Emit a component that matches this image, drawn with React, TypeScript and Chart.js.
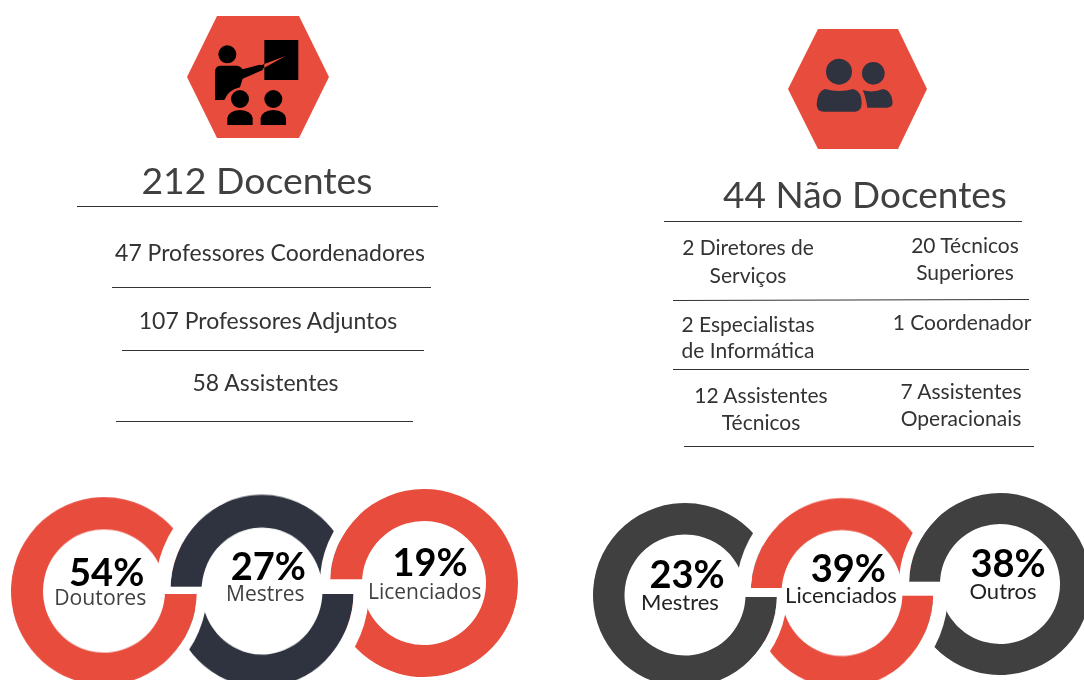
import React, { useEffect, useRef } from "react";
import { Chart, registerables } from "chart.js";

Chart.register(...registerables);

// ---- content ----
const teachingTitle = "212 Docentes";
const staffTitle = "44 Não Docentes";
const teachingRoles = ["47 Professores Coordenadores", "107 Professores Adjuntos", "58 Assistentes"];
const staffRoles = [
  ["2 Diretores de", "Serviços"],
  ["20 Técnicos", "Superiores"],
  ["2 Especialistas", "de Informática"],
  ["1 Coordenador"],
  ["12 Assistentes", "Técnicos"],
  ["7 Assistentes", "Operacionais"],
];
const teachingShares = [54, 27, 19];
const teachingLabels = ["Doutores", "Mestres", "Licenciados"];
const staffShares = [23, 39, 38];
const staffLabels = ["Mestres", "Licenciados", "Outros"];

// Visible sweep of each ring piece, in degrees, clockwise from its start
const firstRingSweep = 345;
const middleUpperSweep = 165;
const middleLowerSweep = 165;
const lastUpperSweep = 190;
const lastLowerSweep = 156;
const gapSweep = 46;

const RED = "#E84C3D";
const NAVY = "#2F3340";
const GREY = "#404040";

type RingProps = {
  cx: number; cy: number; r: number; inner: number; gap: number; sy: number;
  rotation: number; sweep: number; gapArc: number; color: string;
};

function Ring({ cx, cy, r, inner, gap, sy, rotation, sweep, gapArc, color }: RingProps) {
  const ref = useRef<HTMLCanvasElement | null>(null);
  const R = Math.ceil(r + gap);
  useEffect(() => {
    if (!ref.current) return;
    const chart = new Chart(ref.current, {
      type: "doughnut",
      data: {
        labels: ["arc", "rest"],
        datasets: [
          { data: [gapArc, 360 - gapArc], backgroundColor: ["#ffffff", "rgba(0,0,0,0)"], borderWidth: 0, weight: R - r } as any,
          { data: [sweep, 360 - sweep], backgroundColor: [color, "rgba(0,0,0,0)"], borderWidth: 0, weight: r - inner } as any,
        ],
      },
      options: {
        responsive: false,
        animation: false,
        events: [],
        rotation,
        cutout: inner,
        plugins: { legend: { display: false }, tooltip: { enabled: false } },
      } as any,
    });
    return () => chart.destroy();
  }, []);
  return (
    <canvas
      ref={ref}
      width={R * 2}
      height={R * 2}
      style={{ position: "absolute", left: cx - R, top: cy - R, width: R * 2, height: R * 2, transform: `scaleY(${sy})` }}
    />
  );
}

type Geo = { cx: number; cy: number; r: number; inner: number; sy: number };

function Chain({ a, b, c, colors }: { a: Geo; b: Geo; c: Geo; colors: string[] }) {
  const small = 9.5;
  const wide = 14.5;
  return (
    <>
      <Ring {...c} gap={small} rotation={270 + lastUpperSweep - 1} sweep={lastLowerSweep} gapArc={0} color={colors[2]} />
      <Ring {...b} gap={wide} rotation={90} sweep={middleLowerSweep} gapArc={gapSweep} color={colors[1]} />
      <Ring {...a} gap={small} rotation={90} sweep={firstRingSweep} gapArc={gapSweep} color={colors[0]} />
      <Ring {...b} gap={wide} rotation={270} sweep={middleUpperSweep} gapArc={gapSweep} color={colors[1]} />
      <Ring {...c} gap={small} rotation={270} sweep={lastUpperSweep} gapArc={gapSweep} color={colors[2]} />
    </>
  );
}

const LATO = "Lato, sans-serif";
const OPEN = "'Open Sans', sans-serif";

function Rule({ x1, x2, y, y2 }: { x1: number; x2: number; y: number; y2?: number }) {
  return <line x1={x1} x2={x2} y1={y} y2={y2 ?? y} stroke="#333" strokeWidth={1} />;
}

function Label({ x, y, size, children, family = LATO, weight = 400, fill = "#333" }: any) {
  return (
    <text x={x} y={y} fontSize={size} fontFamily={family} fontWeight={weight} fill={fill} textAnchor="middle">
      {children}
    </text>
  );
}

export default function App() {
  const rolePos = [
    [748, 255, 283], [965, 253, 280],
    [748, 332, 358], [962, 330, 0],
    [761, 403, 430], [961, 399, 426],
  ];
  return (
    <div style={{ position: "absolute", left: 0, top: 0, width: 1084, height: 680, overflow: "hidden", background: "#fff" }}>
      <Chain
        a={{ cx: 103.7, cy: 591, r: 93, inner: 61, sy: 1.01 }}
        b={{ cx: 262.2, cy: 590.5, r: 91.7, inner: 60.5, sy: 1.05 }}
        c={{ cx: 423.7, cy: 582.5, r: 94, inner: 62, sy: 1 }}
        colors={[RED, NAVY, RED]}
      />
      <Chain
        a={{ cx: 685, cy: 594.5, r: 92, inner: 60.5, sy: 1.0 }}
        b={{ cx: 842, cy: 592.5, r: 91.3, inner: 60.5, sy: 1.04 }}
        c={{ cx: 1000, cy: 584, r: 91, inner: 60, sy: 1 }}
        colors={[GREY, RED, GREY]}
      />
      <svg width={1084} height={680} style={{ position: "absolute", left: 0, top: 0 }}>
        {/* flat white gaps where one ring hands over to the next */}
        <rect x={160} y={586.7} width={46} height={7.3} fill="#fff" />
        <rect x={318} y={579.3} width={48} height={14.7} fill="#fff" />
        <rect x={745} y={588} width={40} height={9} fill="#fff" />
        <rect x={900} y={581.7} width={45} height={14} fill="#fff" />

        <polygon points="187,77 217,16 299,16 329,77 299,138 217,138" fill={RED} />
        <g transform="translate(170,0) scale(0.3333)" fill="#000">
          <rect x={283} y={120} width={102} height={120} />
          <circle cx={172} cy={163} r={27} />
          <path d="M150,197 L200,197 Q210,197 218,208 L270,194 Q282,196 278,210 L218,236 L210,262 Q175,270 163,300 L135,300 L135,212 Q137,199 150,197 Z" />
          <path d="M268,198 L283,192 L283,203 L275,208 Z" />
          <path d="M283,192 L347,168 L283,203 Z" fill={RED} />
          <circle cx={210} cy={297} r={27} />
          <circle cx={310} cy={297} r={27} />
          <path d="M172,375 L172,355 Q175,332 210,330 Q245,332 248,355 L248,375 Z" />
          <path d="M272,375 L272,355 Q275,332 310,330 Q345,332 348,355 L348,375 Z" />
        </g>
        <polygon points="788,89 818,29 898,29 927,89 898,149 818,149" fill={RED} />
        <g transform="translate(770,15) scale(0.3333)" fill={NAVY}>
          <circle cx={207} cy={170} r={39} />
          <circle cx={310} cy={175} r={34} />
          <path d="M165,222 Q207,234 250,222 Q275,228 275,265 Q275,290 255,290 L160,290 Q140,290 140,268 Q142,228 165,222 Z" />
          <path d="M278,226 Q310,234 340,222 Q366,228 368,262 Q368,278 350,278 L292,278 Q286,240 278,226 Z" />
        </g>

        <Label x={257} y={194} size={37.4} fill="#404040">{teachingTitle}</Label>
        <Rule x1={77} x2={438} y={206.5} />
        <Label x={270} y={261} size={23}>{teachingRoles[0]}</Label>
        <Rule x1={112} x2={431} y={287.5} />
        <Label x={268} y={329} size={23}>{teachingRoles[1]}</Label>
        <Rule x1={122} x2={424} y={350.5} />
        <Label x={265.5} y={391} size={23}>{teachingRoles[2]}</Label>
        <Rule x1={116} x2={413} y={421.5} />

        <Label x={865} y={208} size={37} fill="#404040">{staffTitle}</Label>
        <Rule x1={664} x2={1022} y={221.5} />
        {staffRoles.map((lines, i) =>
          lines.map((t, j) => (
            <Label key={`${i}-${j}`} x={rolePos[i][0]} y={rolePos[i][1 + j]} size={21}>{t}</Label>
          ))
        )}
        <Rule x1={673} x2={1029} y={300.5} y2={299.5} />
        <Rule x1={673} x2={1029} y={369.5} />
        <Rule x1={684} x2={1034} y={446.5} />

        <Label x={106.7} y={586} size={38} weight={700} fill="#000">{teachingShares[0]}%</Label>
        <Label x={268.3} y={580} size={38} weight={700} fill="#000">{teachingShares[1]}%</Label>
        <Label x={430} y={575.5} size={38} weight={700} fill="#000">{teachingShares[2]}%</Label>
        <Label x={100.3} y={605} size={21.2} family={OPEN} fill="#404040">{teachingLabels[0]}</Label>
        <Label x={265.3} y={601} size={21} family={OPEN} fill="#404040">{teachingLabels[1]}</Label>
        <Label x={424.7} y={599} size={21} family={OPEN} fill="#404040">{teachingLabels[2]}</Label>

        <Label x={687} y={588} size={38} weight={700} fill="#000">{staffShares[0]}%</Label>
        <Label x={848.3} y={581.7} size={38} weight={700} fill="#000">{staffShares[1]}%</Label>
        <Label x={1008} y={577} size={38} weight={700} fill="#000">{staffShares[2]}%</Label>
        <Label x={680} y={610} size={22} fill="#222">{staffLabels[0]}</Label>
        <Label x={841} y={602.7} size={22} fill="#222">{staffLabels[1]}</Label>
        <Label x={1003} y={599} size={22} fill="#222">{staffLabels[2]}</Label>
      </svg>
    </div>
  );
}
